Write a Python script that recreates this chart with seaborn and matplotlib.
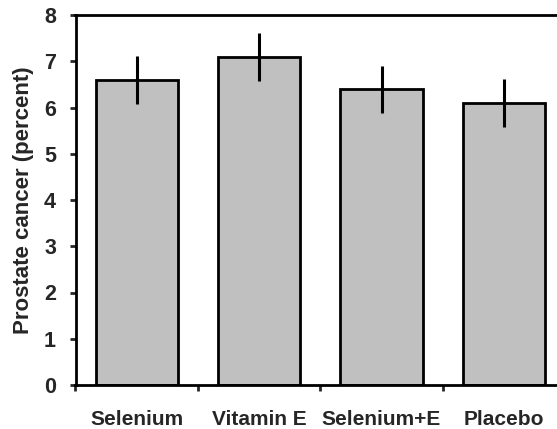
import numpy as np
import pandas as pd
import matplotlib
matplotlib.use("Agg")
import matplotlib.pyplot as plt
import seaborn as sns

# data
groups = ["Selenium", "Vitamin E", "Selenium+E", "Placebo"]
cancer_pct = [6.59, 7.10, 6.39, 6.09]
err_pct = [0.52, 0.52, 0.51, 0.52]
y_ticks = [0, 1, 2, 3, 4, 5, 6, 7, 8]

sns.set_style("ticks")
plt.rcParams["font.family"] = ["Liberation Sans", "DejaVu Sans"]
plt.rcParams["font.weight"] = "bold"

df = pd.DataFrame({"group": groups, "pct": cancer_pct})

fig = plt.figure(figsize=(5.57, 4.29), dpi=100)
W, H = 557, 429
# axes run past the right edge of the picture, like the cropped original
ax = fig.add_axes([75.5 / W, 44 / H, 489.6 / W, 370 / H])

sns.barplot(data=df, x="group", y="pct", color="#C0C0C0", width=0.67,
            edgecolor="black", linewidth=2.0, saturation=1, ax=ax)
ax.errorbar(x=np.arange(len(groups)), y=cancer_pct, yerr=err_pct,
            fmt="none", ecolor="black", elinewidth=2.2, capsize=0)

ax.set_xlim(-0.5, 3.5)
ax.set_ylim(0, 8)
ax.set_yticks(y_ticks)
ax.set_yticklabels([str(t) for t in y_ticks], fontsize=15.5, fontweight="bold")

# category labels without marks, marks sit between the bars
ax.set_xticks(range(len(groups)))
ax.set_xticklabels(groups, fontsize=15, fontweight="bold")
ax.tick_params(axis="x", which="major", length=0, pad=18)
ax.set_xticks(np.arange(-0.5, 4.0, 1.0), minor=True)
ax.tick_params(axis="x", which="minor", length=4, width=2, direction="out")
ax.tick_params(axis="y", length=4, width=2, direction="out", pad=10)

ax.set_xlabel("")
ax.set_ylabel("Prostate cancer (percent)", fontsize=16, fontweight="bold",
              labelpad=7)

for side in ["left", "top", "bottom", "right"]:
    ax.spines[side].set_linewidth(2.0)
    ax.spines[side].set_color("black")

fig.savefig("out.png", dpi=100)
